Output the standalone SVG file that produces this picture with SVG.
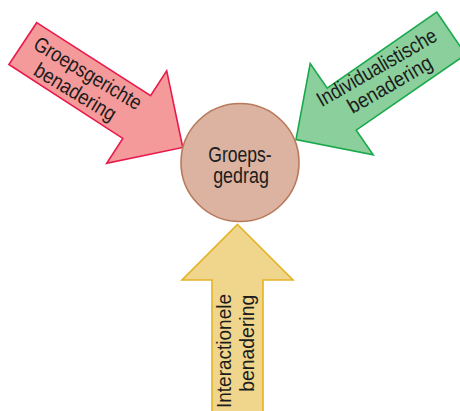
<svg xmlns="http://www.w3.org/2000/svg" width="460" height="411" viewBox="0 0 460 411">
<style>
.lbl{font-family:"Liberation Sans",Arial,sans-serif;font-size:21px;fill:#1c1c1c;text-anchor:middle}
.ctr{font-size:22px}
.arrow{stroke-width:1.6;stroke-linejoin:miter}
</style>
<rect width="460" height="411" fill="#ffffff"/>
<g id="arrow-groepsgericht">
<polygon class="arrow" points="36.7,22.7 150.6,95.6 166.7,70.7 182.8,147.5 106.7,163.3 122.8,138.4 8.9,64.5" fill="#f59a9a" stroke="#e8194b"/>
<text class="lbl" transform="translate(84.3,79.3) rotate(31)" textLength="122" lengthAdjust="spacingAndGlyphs">Groepsgerichte</text>
<text class="lbl" transform="translate(71.6,98) rotate(31)" textLength="92" lengthAdjust="spacingAndGlyphs">benadering</text>
</g>
<g id="arrow-individualistisch">
<polygon class="arrow" points="436.7,12 465.7,54.5 356.2,130.2 373.2,154.8 296,139.5 310.2,63.6 327.2,88.2" fill="#8bcf9c" stroke="#1aa84c"/>
<text class="lbl" transform="translate(380.2,73.6) rotate(-30)" textLength="135" lengthAdjust="spacingAndGlyphs">Individualistische</text>
<text class="lbl" transform="translate(393.3,90.6) rotate(-30)" textLength="94" lengthAdjust="spacingAndGlyphs">benadering</text>
</g>
<g id="arrow-interactioneel">
<polygon class="arrow" points="237.5,224.5 293,280 263,280 263,420 212,420 212,280 182,280" fill="#f0d58c" stroke="#e3b324"/>
<text class="lbl" transform="translate(231,351) rotate(-90)" textLength="114" lengthAdjust="spacingAndGlyphs">Interactionele</text>
<text class="lbl" transform="translate(253.8,343.3) rotate(-90)" textLength="97" lengthAdjust="spacingAndGlyphs">benadering</text>
</g>
<g id="groepsgedrag">
<circle cx="240" cy="162.5" r="59" fill="#dbb3a0" stroke="#b97a5c" stroke-width="1.6"/>
<text class="lbl ctr" x="240" y="161.5" textLength="63.4" lengthAdjust="spacingAndGlyphs">Groeps-</text>
<text class="lbl ctr" x="241" y="183" textLength="55.7" lengthAdjust="spacingAndGlyphs">gedrag</text>
</g>
<g id="connectors"/>
</svg>
